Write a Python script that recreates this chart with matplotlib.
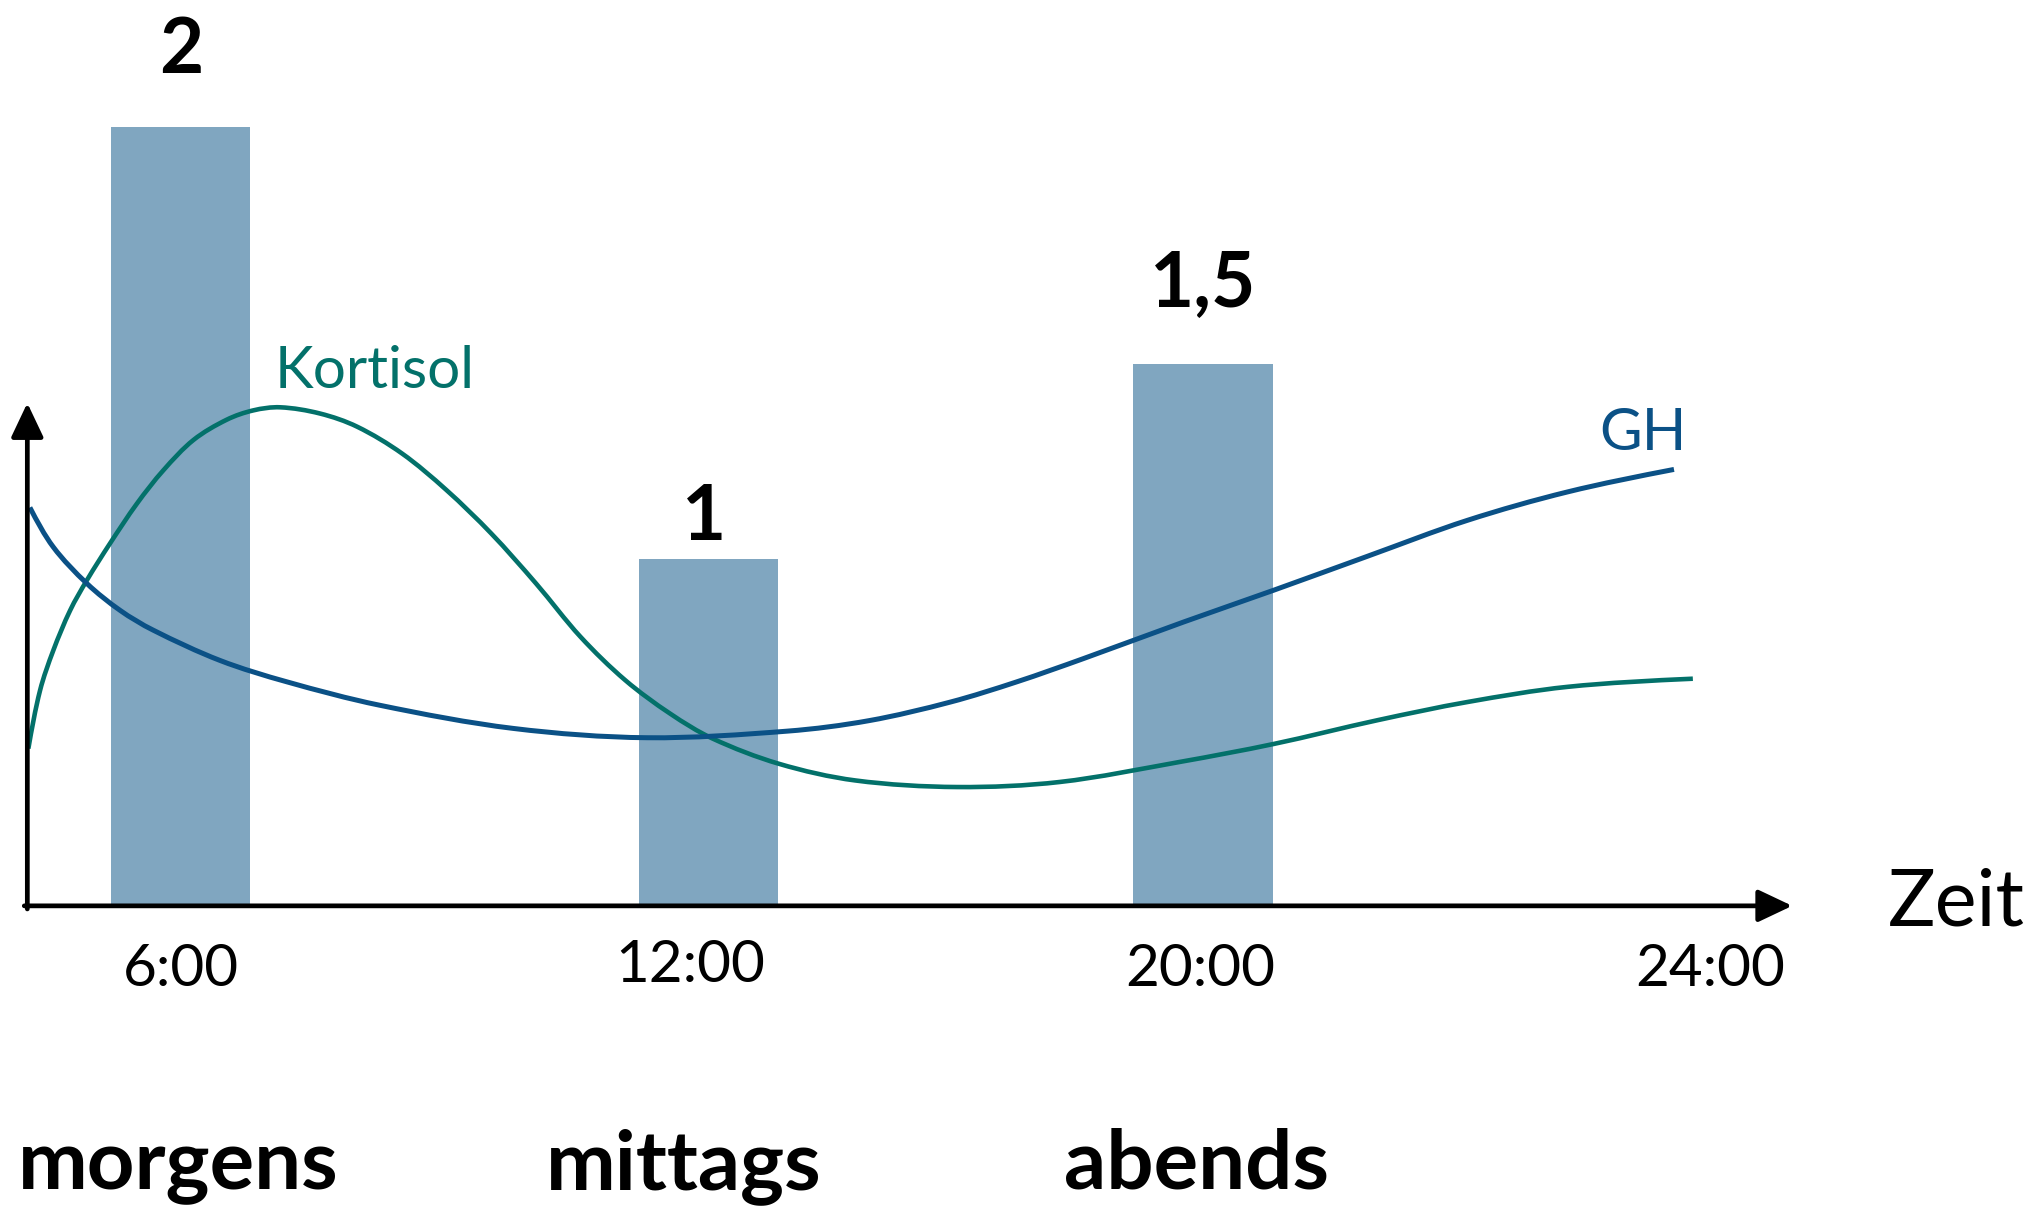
import matplotlib
matplotlib.use("Agg")
import matplotlib.pyplot as plt
import numpy as np
from matplotlib.patches import ArrowStyle, PathPatch
from matplotlib.path import Path

# ---- data ----
tick_labels = ["6:00", "12:00", "20:00", "24:00"]
tick_pos = [0, 1, 2, 3]
categories = ["morgens", "mittags", "abends"]
bar_pos = [0.0, 1.035, 2.005]
bar_heights = [2.0, 0.888, 1.39]
bar_labels = ["2", "1", "1,5"]

gh_x = [-0.296, -0.250, -0.184, -0.119, -0.054, 0.077, 0.208, 0.389, 0.652,
        0.915, 1.190, 1.350, 1.510, 1.640, 1.771, 1.967, 2.144, 2.327, 2.524,
        2.720, 2.929]
gh_y = [1.021, 0.919, 0.825, 0.756, 0.705, 0.627, 0.572, 0.512, 0.452,
        0.428, 0.445, 0.472, 0.520, 0.572, 0.632, 0.726, 0.808, 0.895, 0.988,
        1.061, 1.119]

kort_x = [-0.299, -0.276, -0.250, -0.217, -0.184, -0.139, -0.086, -0.034,
          0.025, 0.090, 0.142, 0.195, 0.273, 0.346, 0.434, 0.521, 0.609,
          0.697, 0.784, 0.872, 0.960, 1.043, 1.173, 1.323, 1.523, 1.724,
          1.961, 2.144, 2.347, 2.524, 2.720, 2.966]
kort_y = [0.400, 0.550, 0.653, 0.756, 0.834, 0.928, 1.031, 1.117,
          1.195, 1.247, 1.271, 1.279, 1.263, 1.229, 1.160, 1.066, 0.954,
          0.825, 0.688, 0.576, 0.490, 0.426, 0.361, 0.318, 0.301, 0.314,
          0.366, 0.412, 0.473, 0.520, 0.559, 0.580]

BAR_C = "#80A6C0"
GH_C = "#0B5186"
KORT_C = "#03716A"
FONT = "Lato"

XLIM = (-0.3546, 3.645)
YLIM = (-0.7806, 2.328)
W, H = 2039, 1207


def smooth_path(xs, ys):
    """Cubic Bezier path through the points (chord-length Catmull-Rom with
    natural end tangents; chord lengths measured in screen proportions)."""
    P = np.column_stack([xs, ys]).astype(float)
    sx = W / (XLIM[1] - XLIM[0])
    sy = H / (YLIM[1] - YLIM[0])
    Q = P * [sx, sy]
    n = len(P)
    t = np.concatenate([[0.0], np.cumsum(np.hypot(*np.diff(Q, axis=0).T))])
    M = np.zeros_like(P)
    for i in range(1, n - 1):
        M[i] = (P[i + 1] - P[i - 1]) / (t[i + 1] - t[i - 1])
    d0 = (P[1] - P[0]) / (t[1] - t[0])
    dn = (P[-1] - P[-2]) / (t[-1] - t[-2])
    M[0] = (3 * d0 - M[1]) / 2
    M[-1] = (3 * dn - M[-2]) / 2
    verts = [P[0]]
    codes = [Path.MOVETO]
    for i in range(n - 1):
        h = t[i + 1] - t[i]
        verts += [P[i] + M[i] * h / 3.0, P[i + 1] - M[i + 1] * h / 3.0, P[i + 1]]
        codes += [Path.CURVE4] * 3
    return Path(verts, codes)


fig = plt.figure(figsize=(W / 100, H / 100), dpi=100)
ax = fig.add_axes([0, 0, 1, 1])
ax.set_xlim(*XLIM)
ax.set_ylim(*YLIM)
ax.axis("off")

ax.bar(bar_pos, bar_heights, width=0.273, color=BAR_C, zorder=1)

for xs, ys, c, lw in [(kort_x, kort_y, KORT_C, 3.3), (gh_x, gh_y, GH_C, 3.6)]:
    ax.add_patch(PathPatch(smooth_path(xs, ys), facecolor="none",
                           edgecolor=c, lw=lw, capstyle="butt", zorder=3))

# axes arrows
style = ArrowStyle("-|>", head_length=0.95, head_width=0.45)
x0, y0 = -0.301, -0.005
ax.annotate("", xy=(3.161, y0), xytext=(x0 - 0.006, y0),
            arrowprops=dict(arrowstyle=style, lw=3.4, color="black",
                            mutation_scale=22, shrinkA=0, shrinkB=0), zorder=4)
ax.annotate("", xy=(x0, 1.290), xytext=(x0, y0 - 0.008),
            arrowprops=dict(arrowstyle=style, lw=3.4, color="black",
                            mutation_scale=22, shrinkA=0, shrinkB=0), zorder=4)

# bar value labels
label_xy = [(0.0, 2.141), (1.026, 0.938), (2.005, 1.538)]
for (lx, ly), t in zip(label_xy, bar_labels):
    ax.text(lx, ly, t, ha="center", va="baseline", fontsize=55,
            fontweight="bold", family=FONT, color="black")

# tick labels
tick_y = [-0.168, -0.158, -0.168, -0.168]
for p, t, ty in zip(tick_pos, tick_labels, tick_y):
    ax.text(p, ty, t, ha="center", va="center", fontsize=42, family=FONT,
            color="black")

# category labels
cat_x = [-0.319, 0.717, 1.732]
for cx, c in zip(cat_x, categories):
    ax.text(cx, -0.734, c, ha="left", va="baseline", fontsize=60,
            fontweight="bold", family=FONT, color="black")

ax.text(3.349, 0.0, "Zeit", ha="left", va="center", fontsize=57,
        family=FONT, color="black")
ax.text(0.184, 1.330, "Kortisol", ha="left", va="baseline", fontsize=42,
        family=FONT, color=KORT_C)
ax.text(2.782, 1.170, "GH", ha="left", va="baseline", fontsize=42,
        family=FONT, color=GH_C)

fig.savefig("out.png", dpi=100)
